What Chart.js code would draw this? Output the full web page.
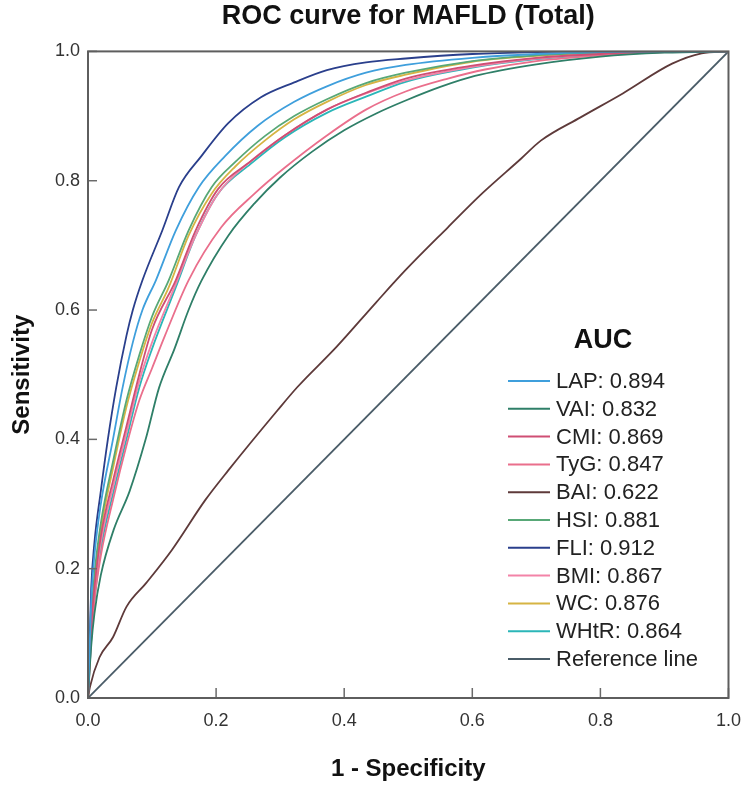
<!DOCTYPE html>
<html>
<head>
<meta charset="utf-8">
<title>ROC curve for MAFLD (Total)</title>
<script src="https://cdn.jsdelivr.net/npm/chart.js@4.4.1/dist/chart.umd.min.js"></script>
<style>
  html, body { margin: 0; padding: 0; background: #fff; }
  #wrap { width: 753px; height: 792px; }
</style>
</head>
<body>
<div id="wrap"><canvas id="rocChart" width="753" height="792"></canvas></div>
<script>
// markers, AUC values and colours (legend order)
const markers = ['LAP', 'VAI', 'CMI', 'TyG', 'BAI', 'HSI', 'FLI', 'BMI', 'WC', 'WHtR'];
const aucValues = [0.894, 0.832, 0.869, 0.847, 0.622, 0.881, 0.912, 0.867, 0.876, 0.864];
const lineColors = ['#3f9fdc', '#2f7f68', '#cf4f74', '#ea6f8c', '#5e3a3a', '#58a877', '#2a3f8c', '#f383a8', '#d6b443', '#2bb6b8'];
const refColor = '#4a5c68';
const tickValues = [0, 0.2, 0.4, 0.6, 0.8, 1.0];

// ROC points (1 - specificity, sensitivity)
const lapFpr = [0, 0.005, 0.01, 0.02, 0.039, 0.054, 0.07, 0.085, 0.106, 0.137, 0.173, 0.214, 0.265, 0.322, 0.373, 0.434, 0.496, 0.6, 0.7, 0.8, 0.9, 1];
const lapTpr = [0, 0.15, 0.22, 0.30, 0.40, 0.48, 0.55, 0.60, 0.646, 0.723, 0.79, 0.838, 0.885, 0.922, 0.946, 0.967, 0.979, 0.99, 0.996, 0.999, 1, 1];

const vaiFpr = [0, 0.005, 0.01, 0.02, 0.04, 0.065, 0.09, 0.111, 0.135, 0.157, 0.177, 0.219, 0.26, 0.3, 0.35, 0.4, 0.45, 0.496, 0.55, 0.604, 0.7, 0.8, 0.9, 1];
const vaiTpr = [0, 0.08, 0.13, 0.19, 0.26, 0.32, 0.40, 0.48, 0.54, 0.60, 0.645, 0.715, 0.765, 0.805, 0.845, 0.878, 0.904, 0.924, 0.945, 0.962, 0.98, 0.992, 0.998, 1];

const cmiFpr = [0, 0.005, 0.01, 0.02, 0.04, 0.06, 0.08, 0.1, 0.137, 0.168, 0.203, 0.254, 0.307, 0.373, 0.434, 0.496, 0.6, 0.7, 0.8, 0.9, 1];
const cmiTpr = [0, 0.11, 0.17, 0.25, 0.34, 0.42, 0.50, 0.57, 0.646, 0.723, 0.787, 0.83, 0.87, 0.91, 0.936, 0.958, 0.978, 0.99, 0.996, 1, 1];

const tygFpr = [0, 0.005, 0.01, 0.02, 0.04, 0.06, 0.08, 0.1, 0.12, 0.157, 0.208, 0.26, 0.307, 0.373, 0.434, 0.496, 0.562, 0.62, 0.7, 0.8, 0.9, 1];
const tygTpr = [0, 0.09, 0.15, 0.22, 0.31, 0.39, 0.46, 0.51, 0.56, 0.646, 0.728, 0.78, 0.82, 0.87, 0.91, 0.938, 0.958, 0.972, 0.985, 0.994, 0.999, 1];

const baiFpr = [0, 0.003, 0.018, 0.039, 0.06, 0.091, 0.131, 0.183, 0.219, 0.296, 0.327, 0.388, 0.45, 0.496, 0.562, 0.615, 0.676, 0.707, 0.769, 0.835, 0.912, 0.958, 1];
const baiTpr = [0, 0.017, 0.063, 0.094, 0.141, 0.178, 0.229, 0.306, 0.352, 0.445, 0.481, 0.543, 0.612, 0.662, 0.728, 0.78, 0.834, 0.862, 0.898, 0.935, 0.981, 0.997, 1];

const hsiFpr = [0, 0.005, 0.01, 0.02, 0.04, 0.06, 0.08, 0.1, 0.126, 0.157, 0.193, 0.23, 0.276, 0.322, 0.373, 0.434, 0.496, 0.6, 0.7, 0.8, 0.9, 1];
const hsiTpr = [0, 0.12, 0.19, 0.27, 0.37, 0.46, 0.53, 0.59, 0.646, 0.723, 0.79, 0.829, 0.869, 0.9, 0.926, 0.951, 0.967, 0.985, 0.994, 0.998, 1, 1];

const fliFpr = [0, 0.005, 0.01, 0.02, 0.031, 0.044, 0.06, 0.07, 0.085, 0.116, 0.142, 0.177, 0.219, 0.27, 0.322, 0.373, 0.434, 0.496, 0.6, 0.7, 0.8, 0.9, 1];
const fliTpr = [0, 0.17, 0.24, 0.32, 0.40, 0.48, 0.56, 0.60, 0.646, 0.723, 0.79, 0.838, 0.889, 0.929, 0.952, 0.971, 0.983, 0.989, 0.996, 0.999, 1, 1, 1];

const bmiFpr = [0, 0.005, 0.01, 0.02, 0.04, 0.06, 0.08, 0.1, 0.137, 0.168, 0.203, 0.254, 0.307, 0.373, 0.434, 0.496, 0.6, 0.7, 0.8, 0.9, 1];
const bmiTpr = [0, 0.10, 0.16, 0.24, 0.33, 0.41, 0.49, 0.55, 0.64, 0.715, 0.78, 0.83, 0.87, 0.91, 0.935, 0.955, 0.976, 0.989, 0.996, 1, 1];

const wcFpr = [0, 0.005, 0.01, 0.02, 0.04, 0.06, 0.08, 0.1, 0.126, 0.157, 0.193, 0.23, 0.276, 0.322, 0.373, 0.434, 0.496, 0.6, 0.7, 0.8, 0.9, 1];
const wcTpr = [0, 0.11, 0.18, 0.26, 0.36, 0.45, 0.52, 0.58, 0.635, 0.715, 0.78, 0.822, 0.862, 0.895, 0.922, 0.948, 0.964, 0.984, 0.993, 0.998, 1, 1];

const whtrFpr = [0, 0.005, 0.01, 0.02, 0.04, 0.06, 0.08, 0.1, 0.137, 0.168, 0.203, 0.254, 0.307, 0.373, 0.434, 0.496, 0.6, 0.7, 0.8, 0.9, 1];
const whtrTpr = [0, 0.09, 0.15, 0.23, 0.32, 0.40, 0.48, 0.54, 0.635, 0.715, 0.78, 0.826, 0.867, 0.905, 0.93, 0.953, 0.975, 0.988, 0.995, 1, 1];

const refFpr = [0, 1];
const refTpr = [0, 1];

const fprList = [lapFpr, vaiFpr, cmiFpr, tygFpr, baiFpr, hsiFpr, fliFpr, bmiFpr, wcFpr, whtrFpr];
const tprList = [lapTpr, vaiTpr, cmiTpr, tygTpr, baiTpr, hsiTpr, fliTpr, bmiTpr, wcTpr, whtrTpr];

function toPoints(xs, ys) {
    return xs.map((x, i) => ({ x: x, y: ys[i] }));
}

const datasets = markers.map((name, i) => ({
    label: name + ': ' + aucValues[i].toFixed(3),
    data: toPoints(fprList[i], tprList[i]),
    borderColor: lineColors[i],
    borderWidth: 1.8,
    showLine: true,
    pointRadius: 0,
    fill: false,
    cubicInterpolationMode: 'monotone'
}));
datasets.push({
    label: 'Reference line',
    data: toPoints(refFpr, refTpr),
    borderColor: refColor,
    borderWidth: 1.8,
    showLine: true,
    pointRadius: 0,
    fill: false
});

const fontFamily = '"Liberation Sans", Arial, sans-serif';

// frame, inside tick marks and the AUC legend
const rocFrame = {
    id: 'rocFrame',
    afterDatasetsDraw(chart) {
        const ctx = chart.ctx;
        const a = chart.chartArea;
        const xs = chart.scales.x;
        const ys = chart.scales.y;
        ctx.save();
        ctx.strokeStyle = '#6a6a6a';
        ctx.lineWidth = 1.5;
        tickValues.forEach(v => {
            const px = xs.getPixelForValue(v);
            ctx.beginPath();
            ctx.moveTo(px, a.bottom);
            ctx.lineTo(px, a.bottom - 10);
            ctx.stroke();
            const py = ys.getPixelForValue(v);
            ctx.beginPath();
            ctx.moveTo(a.left, py);
            ctx.lineTo(a.left + 9, py);
            ctx.stroke();
        });
        ctx.strokeStyle = '#5e5e5e';
        ctx.lineWidth = 2;
        ctx.strokeRect(a.left, a.top, a.right - a.left, a.bottom - a.top);

        // legend
        ctx.fillStyle = '#111';
        ctx.font = 'bold 27px ' + fontFamily;
        ctx.textAlign = 'center';
        ctx.textBaseline = 'middle';
        ctx.fillText('AUC', 603, 341);
        ctx.font = '22px ' + fontFamily;
        ctx.textAlign = 'left';
        chart.data.datasets.forEach((ds, i) => {
            const y = 381 + i * 27.8;
            ctx.strokeStyle = ds.borderColor;
            ctx.lineWidth = 2;
            ctx.beginPath();
            ctx.moveTo(508, y);
            ctx.lineTo(550, y);
            ctx.stroke();
            ctx.fillStyle = '#222';
            ctx.fillText(ds.label, 556, y + 1);
        });
        ctx.restore();
    }
};

const ctx = document.getElementById('rocChart').getContext('2d');
new Chart(ctx, {
    type: 'scatter',
    data: { datasets: datasets },
    options: {
        responsive: false,
        animation: false,
        devicePixelRatio: 1,
        layout: { padding: { left: 0, right: 16, top: 0, bottom: 0 } },
        plugins: {
            legend: { display: false },
            tooltip: { enabled: false },
            title: {
                display: true,
                fullSize: false,
                text: 'ROC curve for MAFLD (Total)',
                color: '#111',
                font: { family: fontFamily, size: 27, weight: 'bold' },
                padding: { top: 0, bottom: 19 }
            }
        },
        scales: {
            x: {
                type: 'linear',
                position: 'bottom',
                min: 0,
                max: 1,
                grid: { display: false, drawTicks: false },
                border: { display: false },
                ticks: {
                    stepSize: 0.2,
                    padding: 12,
                    color: '#333',
                    font: { family: fontFamily, size: 18 },
                    callback: v => v.toFixed(1)
                },
                title: {
                    display: true,
                    text: '1 - Specificity',
                    color: '#111',
                    font: { family: fontFamily, size: 24, weight: 'bold' },
                    padding: { top: 0, bottom: 8 }
                },
                afterFit: s => { s.height = 94; }
            },
            y: {
                type: 'linear',
                min: 0,
                max: 1,
                grid: { display: false, drawTicks: false },
                border: { display: false },
                ticks: {
                    stepSize: 0.2,
                    padding: 8,
                    color: '#333',
                    font: { family: fontFamily, size: 18 },
                    callback: v => v.toFixed(1)
                },
                title: {
                    display: true,
                    text: 'Sensitivity',
                    color: '#111',
                    font: { family: fontFamily, size: 24, weight: 'bold' },
                    padding: { top: 8, bottom: 0 }
                },
                afterFit: s => { s.width = 88; }
            }
        }
    },
    plugins: [rocFrame]
});
</script>
</body>
</html>
